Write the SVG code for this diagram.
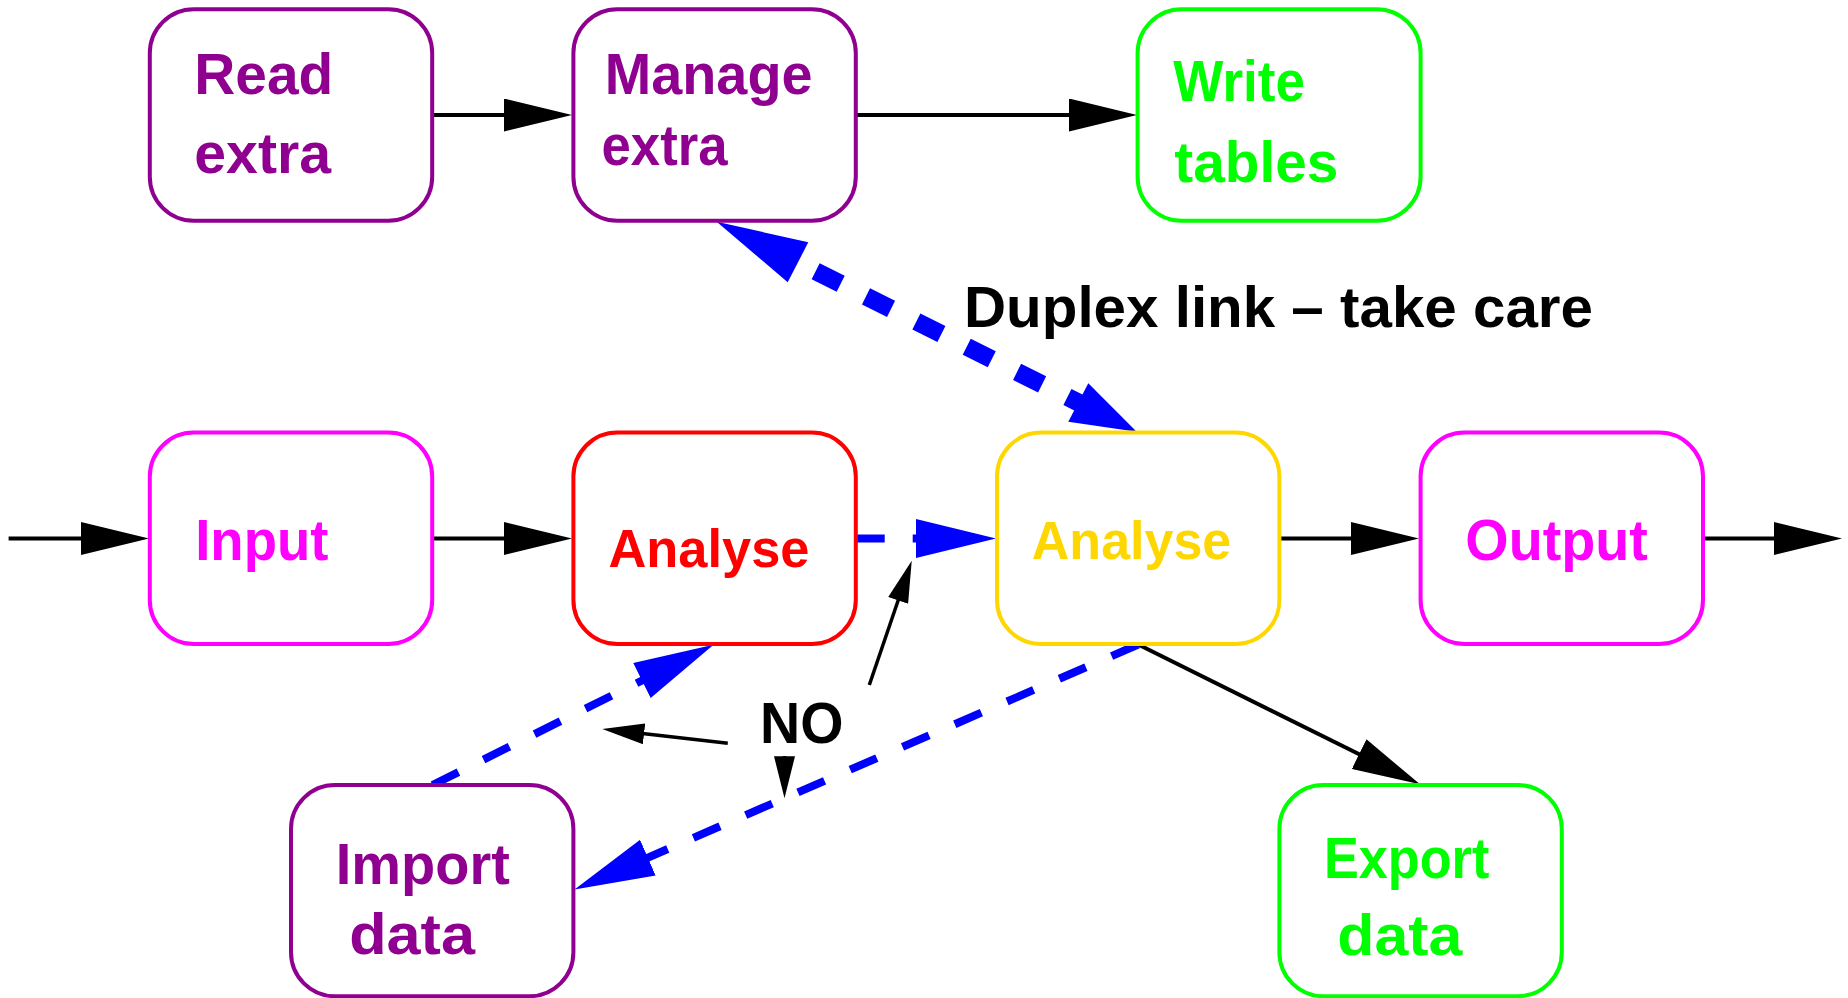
<svg xmlns="http://www.w3.org/2000/svg" width="1848" height="998" viewBox="0 0 1848 998">
  <style>
    .box { fill: #ffffff; stroke-width: 4; }
    .lbl { font-family: "Liberation Sans", Arial, sans-serif; font-weight: bold; font-size: 57px; }
    .purple { stroke: #900090; }
    .green { stroke: #00ff00; }
    .magenta { stroke: #ff00ff; }
    .red { stroke: #ff0000; }
    .gold { stroke: #ffd700; }
    .t-purple { fill: #900090; }
    .t-green { fill: #00ff00; }
    .t-magenta { fill: #ff00ff; }
    .t-red { fill: #ff0000; }
    .t-gold { fill: #ffd700; }
    .flow { fill: none; stroke: #000000; stroke-width: 4; marker-end: url(#head-black); }
    .hint { fill: none; stroke: #000000; stroke-width: 3.5; marker-end: url(#head-thin); }
    .link { fill: none; stroke: #0000ff; stroke-width: 8; stroke-dasharray: 29 28; marker-end: url(#head-blue); }
    .duplex { fill: none; stroke: #0000ff; stroke-width: 18; stroke-dasharray: 28 28.3; }
  </style>
  <defs>
    <marker id="head-black" markerUnits="userSpaceOnUse" viewBox="0 0 68 33" markerWidth="68" markerHeight="33" refX="8" refY="16.5" orient="auto">
      <path d="M0,0 L68,16.5 L0,33 Z" fill="#000000"/>
    </marker>
    <marker id="head-thin" markerUnits="userSpaceOnUse" viewBox="0 0 42 21" markerWidth="42" markerHeight="21" refX="6" refY="10.5" orient="auto">
      <path d="M0,0 L42,10.5 L0,21 Z" fill="#000000"/>
    </marker>
    <marker id="head-blue" markerUnits="userSpaceOnUse" viewBox="0 0 80 39" markerWidth="80" markerHeight="39" refX="10" refY="19.5" orient="auto">
      <path d="M0,0 L80,19.5 L0,39 Z" fill="#0000ff"/>
    </marker>
  </defs>

  <rect x="0" y="0" width="1848" height="998" fill="#ffffff"/>

  <g id="connectors">
    <!-- main flow, top row -->
    <path class="flow" d="M432,115 L512,115"/>
    <path class="flow" d="M856,115 L1077,115"/>
    <!-- main flow, middle row -->
    <path class="flow" d="M8.6,538.5 L89,538.5"/>
    <path class="flow" d="M432,538.5 L512,538.5"/>
    <path class="flow" d="M1279.4,538.5 L1359,538.5"/>
    <path class="flow" d="M1703,538.5 L1782,538.5"/>
    <path class="flow" d="M1138.2,644.5 L1366.3,757.7"/>

    <!-- blue dashed links -->
    <path class="link" d="M855.7,538.5 L926,538.5"/>
    <path class="link" d="M432.5,785 L650.9,676.1"/>
    <path class="link" d="M1138.2,644.5 L638.7,861.6"/>

    <!-- duplex link between the two Analyse stages -->
    <path class="duplex" d="M765.3,246 L1101.3,414"/>
    <polygon points="716.7,221.7 808.3,242.3 787.7,282.3" fill="#0000ff"/>
    <polygon points="1136.7,431.7 1088.3,383.3 1068.3,421.7" fill="#0000ff"/>

    <!-- pointers from the NO label -->
    <path class="hint" d="M727.8,743.3 L638.1,733.1"/>
    <path class="hint" d="M784.5,756 L784.5,762.3"/>
    <path class="hint" d="M869.3,685 L900.1,594.8"/>
  </g>

  <g id="labels">
    <text class="lbl" x="964" y="326.7" fill="#000000" textLength="629" lengthAdjust="spacingAndGlyphs">Duplex link – take care</text>
    <text class="lbl" x="760" y="742.7" fill="#000000" textLength="83.4" lengthAdjust="spacingAndGlyphs">NO</text>
  </g>

  <g id="read-extra">
    <rect class="box purple" x="149.8" y="9.3" width="282.4" height="211.4" rx="44" ry="44"/>
    <text class="lbl t-purple" x="194.3" y="94.3" textLength="139" lengthAdjust="spacingAndGlyphs">Read</text>
    <text class="lbl t-purple" x="194.3" y="173.3" textLength="136.7" lengthAdjust="spacingAndGlyphs">extra</text>
  </g>

  <g id="manage-extra">
    <rect class="box purple" x="573.4" y="9.3" width="282.4" height="211.4" rx="44" ry="44"/>
    <text class="lbl t-purple" x="604.8" y="94.3" textLength="207.7" lengthAdjust="spacingAndGlyphs">Manage</text>
    <text class="lbl t-purple" x="601.5" y="165" textLength="126" lengthAdjust="spacingAndGlyphs">extra</text>
  </g>

  <g id="write-tables">
    <rect class="box green" x="1137.6" y="9.3" width="283" height="211.4" rx="44" ry="44"/>
    <text class="lbl t-green" x="1173.3" y="100.7" textLength="131.7" lengthAdjust="spacingAndGlyphs">Write</text>
    <text class="lbl t-green" x="1174.3" y="181.7" textLength="164" lengthAdjust="spacingAndGlyphs">tables</text>
  </g>

  <g id="input">
    <rect class="box magenta" x="149.8" y="432.6" width="282.4" height="211.4" rx="44" ry="44"/>
    <text class="lbl t-magenta" x="195.2" y="560" textLength="133.2" lengthAdjust="spacingAndGlyphs">Input</text>
  </g>

  <g id="analyse-red">
    <rect class="box red" x="573.4" y="432.6" width="282.4" height="211.4" rx="44" ry="44"/>
    <text class="lbl t-red" x="608.5" y="566.7" style="font-size:53px" textLength="201" lengthAdjust="spacingAndGlyphs">Analyse</text>
  </g>

  <g id="analyse-gold">
    <rect class="box gold" x="997" y="432.6" width="282.4" height="211.4" rx="44" ry="44"/>
    <text class="lbl t-gold" x="1031.8" y="559.3" style="font-size:53px" textLength="199.5" lengthAdjust="spacingAndGlyphs">Analyse</text>
  </g>

  <g id="output">
    <rect class="box magenta" x="1420.6" y="432.6" width="282.4" height="211.4" rx="44" ry="44"/>
    <text class="lbl t-magenta" x="1465.3" y="560" textLength="182.6" lengthAdjust="spacingAndGlyphs">Output</text>
  </g>

  <g id="import-data">
    <rect class="box purple" x="291" y="785" width="282.4" height="211.2" rx="44" ry="44"/>
    <text class="lbl t-purple" x="335.8" y="884.3" textLength="174" lengthAdjust="spacingAndGlyphs">Import</text>
    <text class="lbl t-purple" x="349.2" y="954.3" textLength="125.8" lengthAdjust="spacingAndGlyphs">data</text>
  </g>

  <g id="export-data">
    <rect class="box green" x="1279.4" y="785" width="282.4" height="211.2" rx="44" ry="44"/>
    <text class="lbl t-green" x="1324" y="877.7" textLength="165.3" lengthAdjust="spacingAndGlyphs">Export</text>
    <text class="lbl t-green" x="1337.3" y="955" textLength="125" lengthAdjust="spacingAndGlyphs">data</text>
  </g>
</svg>
